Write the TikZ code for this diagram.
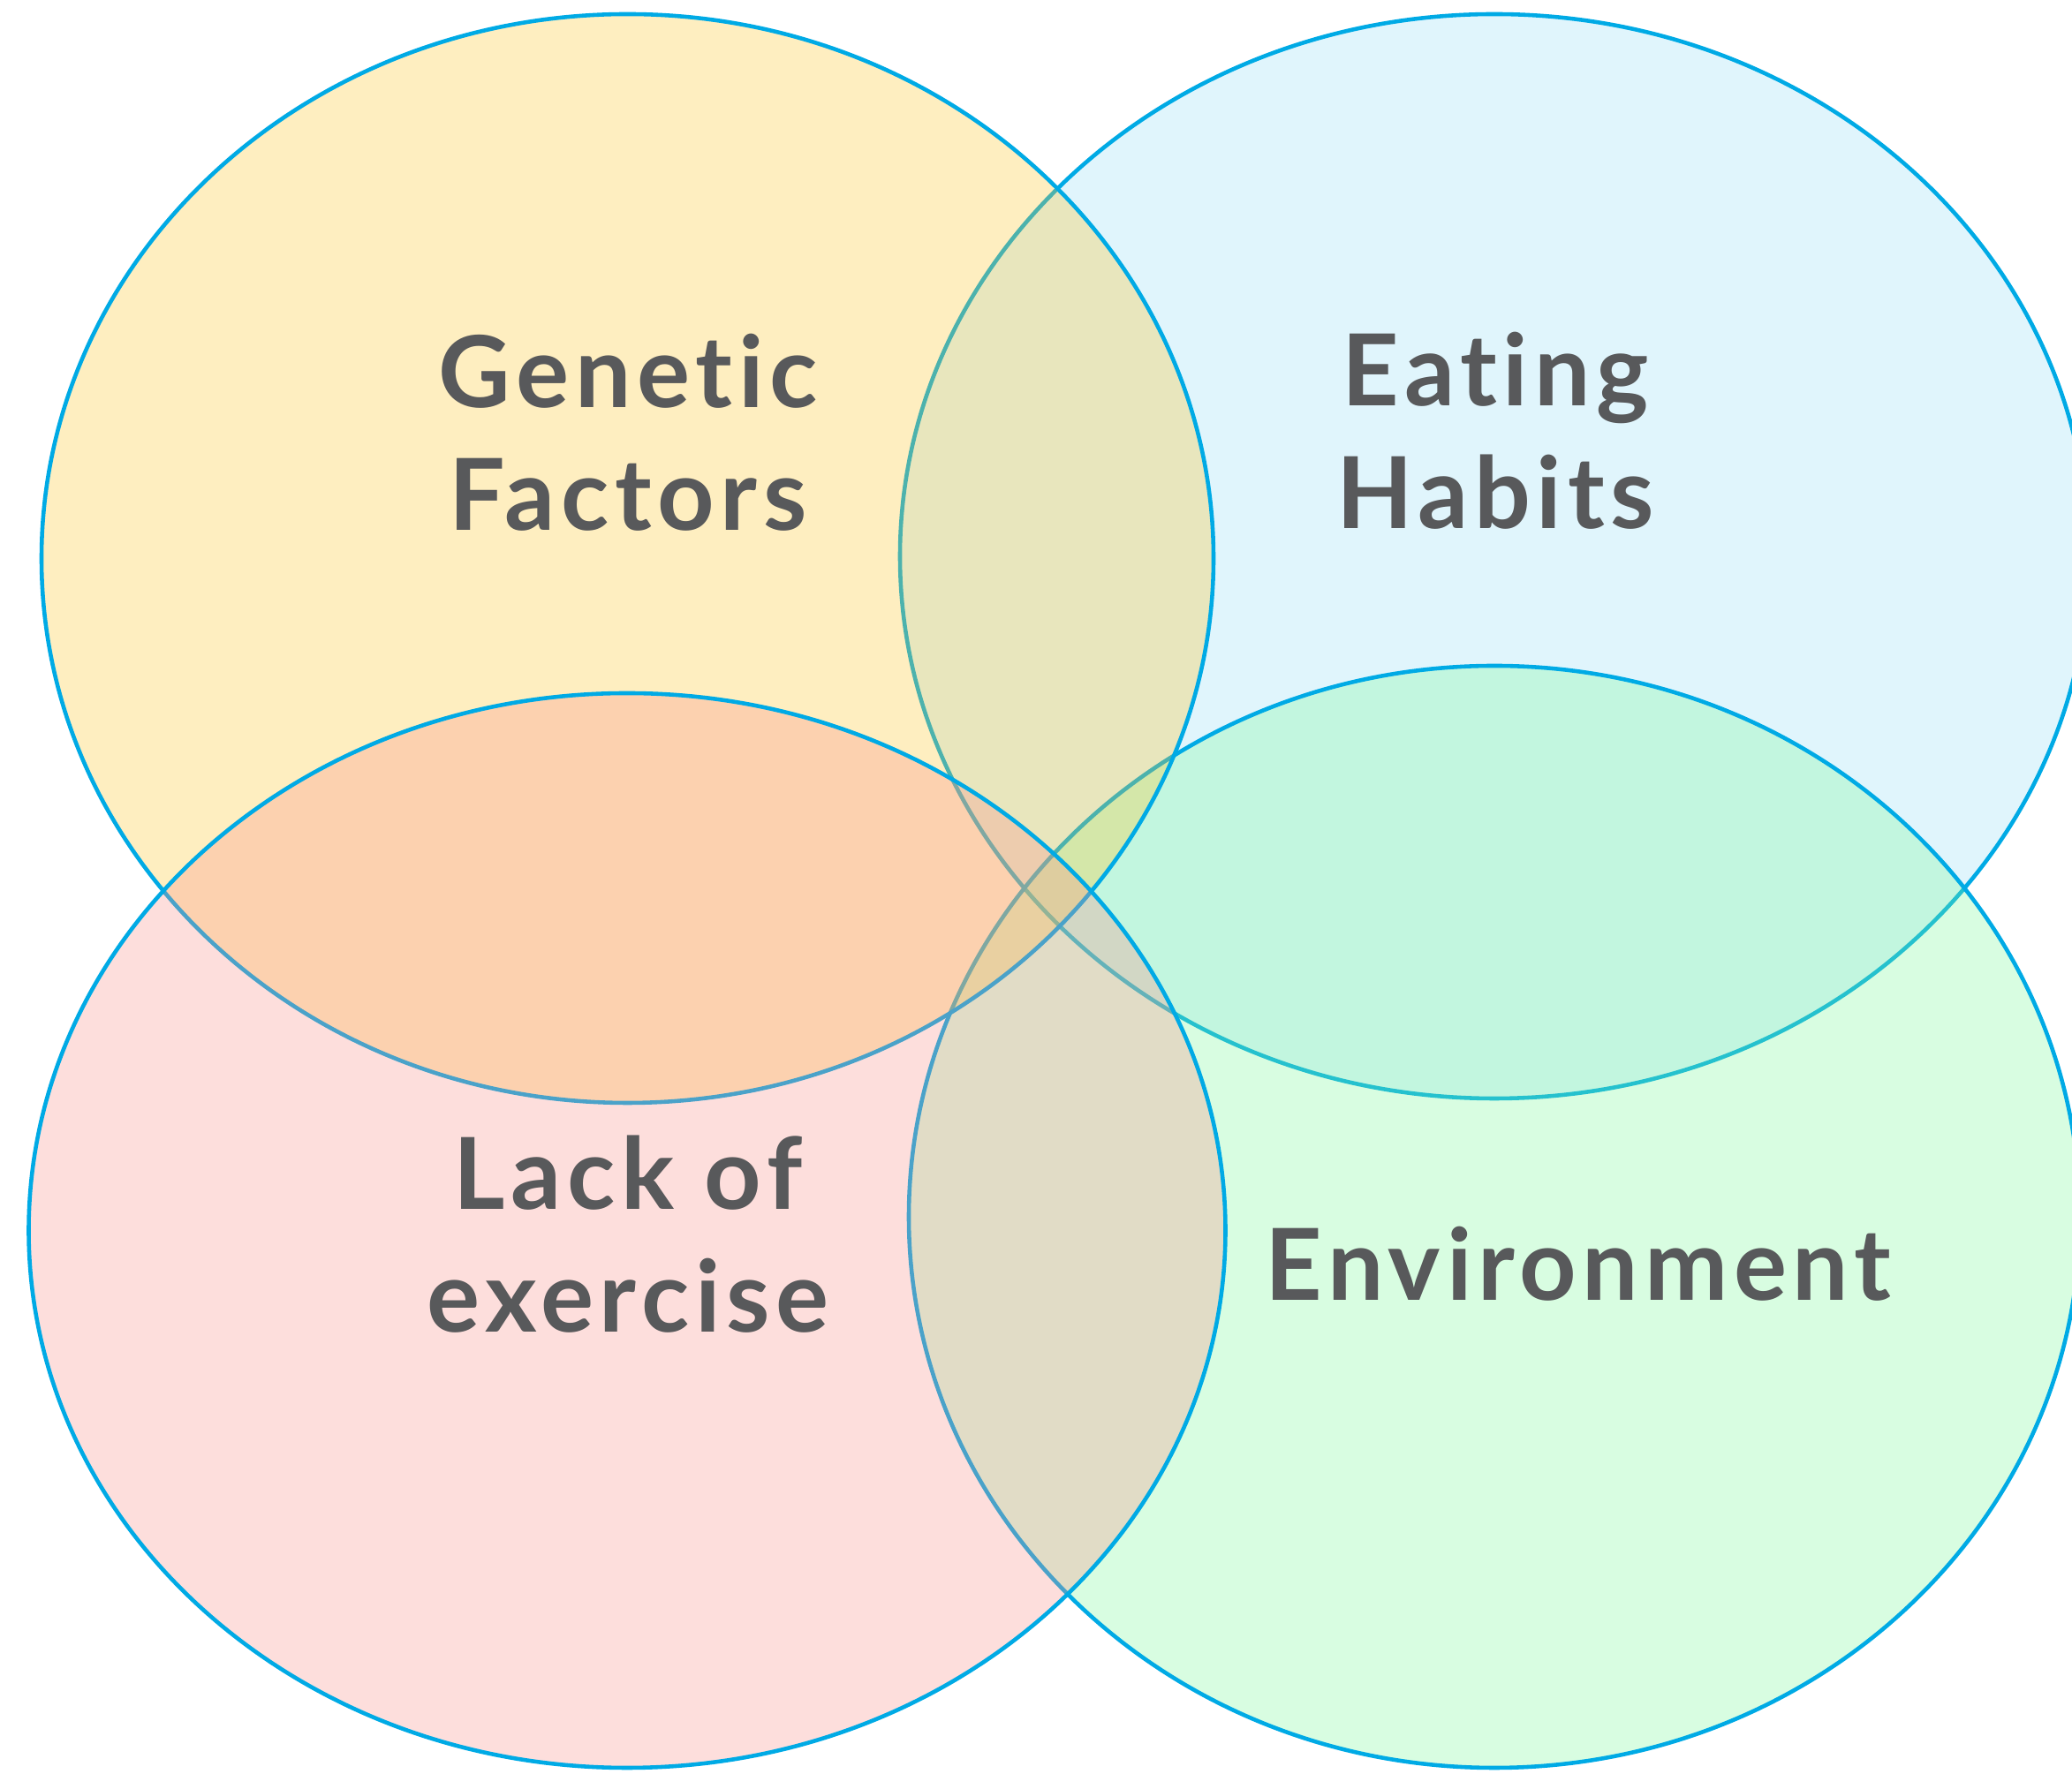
\documentclass[tikz,border=0pt]{standalone}
\usepackage{fontspec}
\setmainfont{Lato}[Ligatures={NoCommon}, LetterSpace=6]
\usepackage{tikz}
\usetikzlibrary{shapes.geometric,positioning}
\usepackage{xcolor}
\definecolor{colLine}{RGB}{0,170,229}
\definecolor{colText}{RGB}{88,89,91}
\definecolor{colGenetic}{RGB}{252,198,45}
\definecolor{colEating}{RGB}{152,222,245}
\definecolor{colLack}{RGB}{248,145,138}
\definecolor{colEnv}{RGB}{125,248,155}
\tikzset{
  vset/.style  = {ellipse, draw=colLine, line width=1.3pt, inner sep=0pt,
                  fill opacity=0.3, draw opacity=1},
  vlabel/.style = {text=colText, align=center, anchor=base, inner sep=0pt,
                   font=\bfseries\fontsize{32}{39.8}\selectfont},
}

\begin{document}
\begin{tikzpicture}

\useasboundingbox (0,0) rectangle (23.46,20.09);
\clip (0,0) rectangle (23.46,20.09);

%% ── Sets (drawn back to front) ────────────────────────────
\node[vset, fill=colEating, minimum width=13.46cm, minimum height=12.28cm]
  (eating) at (16.92,13.79) {};
\node[vset, fill=colEnv, minimum width=13.26cm, minimum height=12.48cm]
  (env) at (16.92,6.31) {};
\node[vset, fill=colGenetic, minimum width=13.27cm, minimum height=12.33cm]
  (genetic) at (7.105,13.765) {};
\node[vset, fill=colLack, minimum width=13.55cm, minimum height=12.17cm]
  (lack) at (7.10,6.155) {};

%% ── Labels (anchor = baseline of last line) ───────────────
\node[vlabel] (geneticTxt) at (7.11,14.08) {Genetic\\Factors};
\node[vlabel] (eatingTxt)  at (16.93,14.10) {Eating\\Habits};
\node[vlabel] (lackTxt)    at (7.11,5.00)  {Lack of\\exercise};
\node[vlabel] (envTxt)     at (17.87,5.36) {Environment};

\end{tikzpicture}
\end{document}
